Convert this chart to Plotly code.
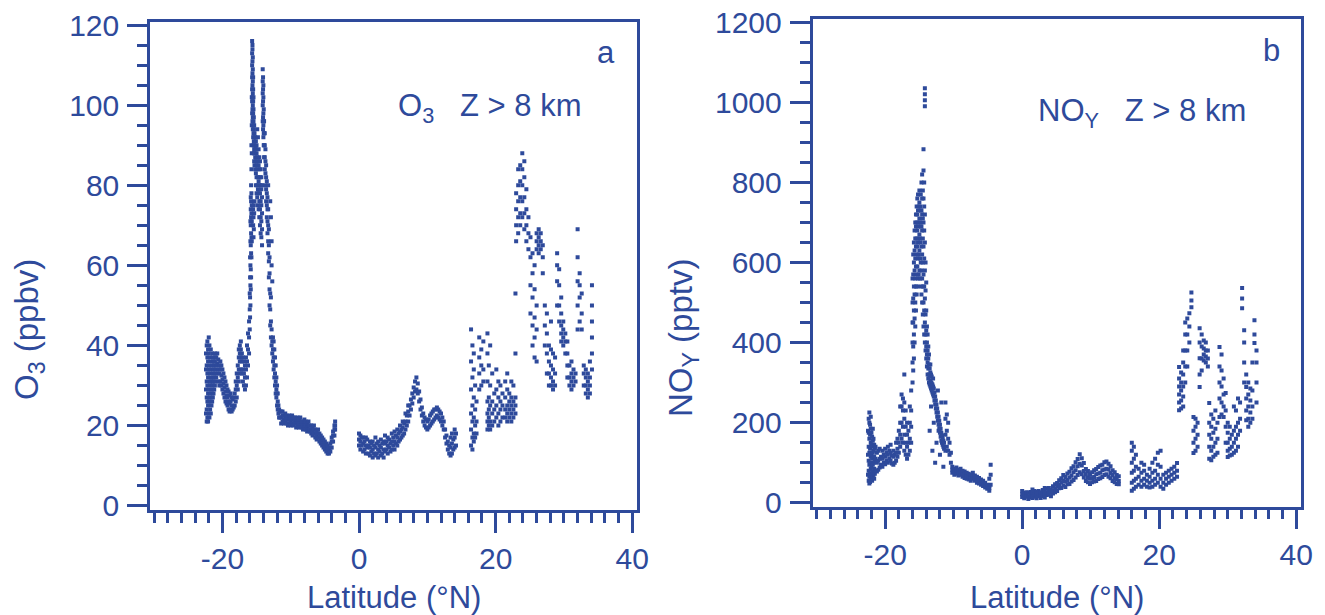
import plotly.graph_objects as go

# ---------------- O3 data: (latitude, [O3 ppbv values]) ----------------
o3_south = [
    (-22.4, [23, 29, 34, 38]), (-22.3, [21, 24, 27, 31, 35, 40]),
    (-22.2, [22, 26, 30, 33, 37, 41]), (-22.1, [21, 25, 28, 32, 36, 39]),
    (-22.0, [23, 26, 29, 34, 38, 42]), (-21.9, [22, 27, 31, 35, 40]),
    (-21.8, [24, 28, 30, 33, 37]), (-21.7, [23, 26, 31, 34, 39]),
    (-21.6, [25, 29, 32, 36]), (-21.5, [26, 28, 31, 35, 38]),
    (-21.4, [27, 30, 33, 37]), (-21.3, [28, 31, 34, 36]),
    (-21.2, [29, 32, 35]), (-21.1, [30, 33, 36, 38]),
    (-21.0, [31, 34, 37]), (-20.9, [32, 35, 37]),
    (-20.75, [33, 35.5, 38]), (-20.6, [31, 34, 36.5]),
    (-20.45, [30, 33, 35]), (-20.3, [31, 34, 36]),
    (-20.15, [30, 32.5, 35]), (-20.0, [29, 31.5, 34]),
    (-19.85, [28, 30.5, 33]), (-19.7, [27, 29.5, 32]),
    (-19.55, [26, 28.5, 31]), (-19.4, [25.5, 27.5, 30]),
    (-19.25, [25, 27, 29]), (-19.1, [24, 26, 28.5]),
    (-18.95, [23.5, 25.5, 27.5]), (-18.8, [24, 26, 28]),
    (-18.65, [23.5, 25, 27]), (-18.5, [24, 26.5]),
    (-18.35, [24.5, 27]), (-18.2, [25, 28]),
    (-18.05, [26, 29, 31]), (-17.9, [27, 30, 33]),
    (-17.75, [29, 32, 35]), (-17.6, [31, 34, 37, 39]),
    (-17.45, [33, 36, 38, 40]), (-17.3, [34, 37, 39, 41]),
    (-17.15, [33, 36, 38]), (-17.0, [31, 34, 37]),
    (-16.85, [30, 33, 36]), (-16.7, [29, 32, 35]),
    (-16.55, [30, 34, 37]), (-16.4, [32, 36, 40]),
    (-16.25, [35, 39, 43]), (-16.1, [38, 42, 46]),
]

o3_spike = [
    (-16.0, [44, 49, 53]), (-15.95, [47, 52, 57, 62]),
    (-15.9, [50, 55, 60, 66, 71]), (-15.85, [54, 59, 65, 70, 74, 77]),
    (-15.8, [57, 63, 68, 72, 76, 80]), (-15.75, [62, 67, 73, 78, 84, 90]),
    (-15.7, [66, 71, 75, 88, 95, 102]),
    (-15.65, [98, 101, 104, 107, 110, 113, 116]),
    (-15.6, [96, 99, 102, 105, 108, 111, 114, 115]),
    (-15.55, [94, 97, 100, 103, 106, 109, 112]),
    (-15.5, [70, 74, 92, 95, 98, 101, 104, 107]),
    (-15.45, [67, 72, 90, 93, 96, 99, 102]),
    (-15.4, [69, 75, 88, 91, 94, 97]), (-15.35, [73, 86, 89, 92, 95]),
    (-15.3, [76, 85, 88, 90, 93]), (-15.2, [84, 87, 89, 92]),
    (-15.1, [80, 83, 86, 89, 91]), (-15.0, [78, 82, 85, 88, 90]),
    (-14.9, [77, 80, 84, 87, 94]), (-14.8, [75, 79, 82, 86, 92]),
    (-14.7, [74, 78, 81, 85, 89]), (-14.6, [72, 76, 80, 84, 87]),
    (-14.5, [70, 74, 78, 82, 86]), (-14.4, [68, 72, 76, 80, 84]),
    (-14.3, [67, 71, 75, 79, 82]), (-14.2, [65, 69, 73, 77, 80]),
    (-14.1, [96, 100, 103, 106, 109]), (-14.05, [94, 97, 101, 104, 107]),
    (-14.0, [92, 95, 98, 102, 105]), (-13.95, [90, 93, 96, 99]),
    (-13.9, [87, 90, 93, 96]), (-13.8, [84, 87, 90, 93]),
    (-13.7, [80, 83, 86, 89]), (-13.6, [76, 79, 82, 85]),
    (-13.5, [72, 75, 78, 81]), (-13.4, [68, 71, 74, 77]),
    (-13.3, [63, 66, 70, 74, 80]), (-13.2, [57, 61, 65, 69]),
    (-13.1, [50, 54, 58, 62]), (-13.0, [45, 49, 53, 76]),
    (-12.9, [42, 46, 52, 72]), (-12.8, [40, 44, 60, 66]),
    (-12.7, [38, 41, 56]), (-12.6, [36, 39, 42]),
    (-12.5, [34, 37, 41]), (-12.4, [32, 35, 39]),
    (-12.3, [30, 33, 37]), (-12.2, [28, 31, 35]),
    (-12.1, [27, 29, 32]), (-12.0, [25, 28, 30]),
    (-11.9, [24, 26, 28]), (-11.8, [23, 25]),
    (-11.7, [22, 24]), (-11.6, [22, 23.5]),
]

o3_tropics_s = [
    (-11.4, [20.5, 22, 23.5]), (-11.2, [21, 22.5, 23.5]), (-11.0, [20.5, 21.5, 22.5]),
    (-10.8, [21, 22, 23]), (-10.6, [20.5, 21.5, 22.5]), (-10.4, [20, 21.5, 22]),
    (-10.2, [20.5, 21.5, 22.5]), (-10.0, [20, 21, 22]), (-9.8, [20.5, 21.5, 22.5]),
    (-9.6, [20, 21.5, 22]), (-9.4, [20.5, 21, 22]), (-9.2, [19.5, 20.5, 21.5]),
    (-9.0, [20, 21, 22]), (-8.8, [19.5, 20.5, 21.5]), (-8.6, [20, 21, 22]),
    (-8.4, [19.5, 20.5, 21]), (-8.2, [19, 20, 21]), (-8.0, [19.5, 20.5, 21.5]),
    (-7.8, [19, 20, 21]), (-7.6, [18.5, 19.5, 20.5]), (-7.4, [19, 20, 21]),
    (-7.2, [18.5, 19, 20]), (-7.0, [18, 19, 20]), (-6.8, [17.5, 18.5, 19.5]),
    (-6.6, [18, 19, 20]), (-6.4, [17, 18, 19]), (-6.2, [16.5, 17.5, 18.5]),
    (-6.0, [17, 18, 19]), (-5.8, [16, 17, 18]), (-5.6, [15.5, 16.5, 17.5]),
    (-5.4, [15, 16, 17]), (-5.2, [14.5, 15.5, 16.5]), (-5.0, [14, 15, 16]),
    (-4.8, [13.5, 14.5, 15.5]), (-4.6, [13, 14, 15]), (-4.4, [13, 14, 14.5]),
    (-4.2, [13.5, 14.5, 15.5]), (-4.0, [14.5, 16, 17]), (-3.8, [16, 17.5, 18.5]),
    (-3.6, [17.5, 19, 20]), (-3.5, [19, 20, 21]),
]

o3_tropics_n = [
    (0.0, [15, 16.5, 18]), (0.2, [14, 16, 17.5]), (0.4, [15, 17]),
    (0.6, [13.5, 15.5, 17]), (0.8, [14, 16]), (1.0, [13, 15, 17]),
    (1.2, [14.5, 16.5]), (1.4, [13, 15]), (1.6, [12.5, 14.5, 16]),
    (1.8, [13.5, 15.5]), (2.0, [12, 14, 16]), (2.2, [13, 15]),
    (2.4, [12.5, 14.5, 17]), (2.6, [13, 15.5]), (2.8, [12, 14, 16]),
    (3.0, [13.5, 15]), (3.2, [12.5, 14.5, 16.5]), (3.4, [13, 15.5]),
    (3.6, [12, 14, 16]), (3.8, [13.5, 15.5, 17.5]), (4.0, [14, 16]),
    (4.2, [13, 15, 17]), (4.4, [14.5, 16.5]), (4.6, [13.5, 15.5]),
    (4.8, [14, 16, 18]), (5.0, [15, 17]), (5.2, [14, 16, 18.5]),
    (5.4, [15.5, 17.5]), (5.6, [15, 17, 19]), (5.8, [16, 18]),
    (6.0, [16.5, 18.5, 20]), (6.2, [17, 19]), (6.4, [17.5, 19.5, 21]),
    (6.6, [18, 20.5]), (6.8, [19, 21, 23]), (7.0, [20, 22.5]),
    (7.2, [21, 23.5, 25]), (7.4, [22.5, 25]), (7.6, [24, 26.5]),
    (7.8, [25.5, 28]), (8.0, [27, 29.5]), (8.2, [28.5, 31]),
    (8.4, [29, 32]), (8.6, [28, 30.5]), (8.8, [26, 28.5]),
    (9.0, [24, 26.5]), (9.2, [22.5, 24.5]), (9.4, [21, 23]),
    (9.6, [20, 22]), (9.8, [19.5, 21.5]), (10.0, [19, 21]),
    (10.2, [19.5, 21.5]), (10.4, [20, 22.5]), (10.6, [20.5, 23]),
    (10.8, [21, 23.5]), (11.0, [21.5, 24]), (11.2, [22, 24]),
    (11.4, [22.5, 24.5]), (11.6, [22, 24]), (11.8, [21.5, 23.5]),
    (12.0, [21, 23]), (12.2, [20, 22]), (12.4, [19, 21]),
    (12.6, [17, 19]), (12.8, [15.5, 17.5]), (13.0, [14, 16]),
    (13.2, [13, 15]), (13.4, [12.5, 14.5, 17]), (13.6, [13, 15.5, 18]),
    (13.8, [14, 16.5]), (14.0, [14.5, 17, 19]), (14.2, [15, 18]),
]

o3_north = [
    (16.4, [15, 19, 23, 29, 36, 44]), (16.6, [14, 17, 21, 25, 32, 40]),
    (16.8, [16, 18, 22, 27, 34, 38]), (17.0, [17, 20, 24, 30]),
    (17.2, [18, 21, 26]), (17.6, [29, 33, 37, 42]),
    (17.9, [30, 35, 39]), (18.2, [31, 34, 41]),
    (18.8, [19, 21, 23, 26, 31, 38, 43]), (19.0, [20, 22, 24, 27, 35]),
    (19.2, [19, 21, 25, 30, 40]), (19.5, [20, 23, 26, 33]),
    (19.8, [21, 24, 28]), (20.1, [22, 25, 29, 34]),
    (20.4, [20, 23, 27, 31]), (20.7, [21, 24, 26, 30]),
    (21.0, [22, 25, 28]), (21.4, [22, 24, 27, 31]),
    (21.7, [21, 23, 25, 29, 33]), (22.0, [22, 24, 26, 28]),
    (22.3, [21, 23, 25, 27, 31]), (22.6, [22, 24, 26, 30]),
    (22.9, [23, 25, 27, 38, 53]),
    (23.0, [66, 70, 74, 78]), (23.3, [68, 72, 76, 80, 84]),
    (23.6, [70, 73, 77, 81, 85]), (23.9, [72, 76, 80, 84, 88]),
    (24.2, [69, 73, 77, 82, 86]), (24.5, [66, 70, 74, 79]),
    (24.8, [64, 68, 72]), (25.1, [48, 55, 62, 67]),
    (25.4, [40, 45, 52, 58, 63]), (25.7, [37, 42, 47, 54, 60]),
    (26.0, [36, 44, 50, 64, 66, 68]), (26.3, [63, 65, 67, 69]),
    (26.6, [64, 66, 68]), (26.9, [58, 62, 65]),
    (27.2, [40, 45, 50]), (27.5, [33, 38, 43, 48]),
    (27.8, [30, 33, 36, 40]), (28.1, [30, 32, 35, 39, 46]),
    (28.4, [29, 31, 34, 38]), (28.7, [30, 33, 37]),
    (29.0, [50, 56, 60, 63]), (29.3, [46, 50, 55, 59]),
    (29.6, [41, 43, 45, 48, 52]), (29.9, [40, 42, 44, 46]),
    (30.2, [38, 41, 43]), (30.5, [32, 35, 38, 41]),
    (30.8, [30, 32, 35]), (31.1, [29, 31, 33, 36]),
    (31.4, [30, 32, 34]), (31.7, [31, 33]),
    (32.0, [44, 50, 56, 62, 69]), (32.3, [46, 52, 55, 58]),
    (32.6, [44, 48, 53]), (32.9, [30, 33, 35]),
    (33.2, [28, 30, 32, 34]), (33.5, [27, 29, 31, 33]),
    (33.8, [28, 30, 32, 36]), (34.1, [34, 38, 42, 46, 50, 55]),
]

# ---------------- NOy data: (latitude, [NOy pptv values]) ----------------
noy_south = [
    (-22.5, [70, 120, 180]), (-22.4, [55, 80, 105, 140, 175, 210]),
    (-22.3, [48, 65, 95, 125, 160, 200, 225]), (-22.2, [52, 72, 100, 135, 170, 195]),
    (-22.1, [58, 85, 115, 150, 185, 215]), (-22.0, [62, 90, 120, 145, 175]),
    (-21.9, [55, 78, 110, 140, 165]), (-21.8, [65, 95, 125, 155, 185]),
    (-21.7, [70, 100, 130, 160]), (-21.6, [60, 85, 115, 145]),
    (-21.5, [72, 105, 135]), (-21.4, [80, 110, 140]),
    (-21.2, [78, 100, 125]), (-21.0, [82, 105, 130]),
    (-20.8, [88, 110, 135]), (-20.6, [95, 115]),
    (-20.4, [90, 110, 130]), (-20.2, [100, 120]),
    (-20.0, [96, 115, 135]), (-19.8, [105, 125]),
    (-19.6, [100, 120, 140]), (-19.4, [110, 130]),
    (-19.2, [105, 125, 145]), (-19.0, [98, 118]),
    (-18.8, [95, 115, 130]), (-18.6, [100, 120]),
    (-18.4, [105, 125, 150]), (-18.2, [115, 135, 160]),
    (-18.0, [125, 150, 180]), (-17.8, [140, 170, 200, 240]),
    (-17.6, [160, 200, 240, 270]), (-17.4, [150, 190, 230, 260]),
    (-17.2, [130, 170, 210, 250, 320]), (-17.0, [120, 150, 190, 230]),
    (-16.8, [110, 140, 170, 200]), (-16.6, [120, 150, 180]),
    (-16.4, [130, 160, 200, 240]), (-16.2, [150, 190, 230, 280]),
]

noy_spike = [
    (-16.0, [300, 350, 400, 450, 500, 560]), (-15.9, [330, 390, 450, 510, 570, 620]),
    (-15.8, [360, 420, 480, 540, 600, 650]), (-15.7, [400, 460, 520, 580, 630, 680]),
    (-15.6, [440, 500, 560, 610, 660, 700]), (-15.5, [480, 540, 590, 640, 690, 720]),
    (-15.4, [520, 570, 620, 660, 700, 740]), (-15.3, [540, 590, 640, 680, 720, 760]),
    (-15.2, [560, 610, 650, 690, 730, 770]), (-15.1, [570, 620, 660, 700, 740]),
    (-15.0, [580, 630, 670, 710, 750, 780]), (-14.9, [560, 610, 660, 700, 740]),
    (-14.8, [540, 600, 650, 690, 730, 770]), (-14.7, [520, 580, 640, 690, 730, 800]),
    (-14.6, [500, 560, 620, 680, 720, 760, 820]), (-14.5, [470, 540, 600, 660, 710, 780]),
    (-14.4, [440, 500, 570, 640, 700, 760, 830, 883]),
    (-14.3, [420, 480, 540, 610, 680, 740, 800]),
    (-14.2, [400, 450, 510, 580, 650, 720, 990, 1005, 1020, 1035]),
    (-14.1, [380, 420, 470, 530, 600]), (-14.0, [360, 390, 430, 480, 550]),
    (-13.9, [340, 370, 400, 440]), (-13.8, [320, 350, 380, 420]),
    (-13.7, [310, 335, 360, 390]), (-13.6, [300, 320, 345, 370]),
    (-13.5, [180, 295, 315, 335]), (-13.4, [290, 305, 325, 345]),
    (-13.3, [240, 285, 300, 320]), (-13.2, [280, 298, 315]),
    (-13.1, [130, 275, 295]), (-13.0, [270, 290, 310]),
    (-12.9, [200, 265, 285]), (-12.8, [255, 275]),
    (-12.7, [100, 245, 265]), (-12.6, [235, 255]),
    (-12.5, [150, 225, 245]), (-12.4, [215, 235]),
    (-12.3, [205, 225, 280]), (-12.2, [180, 195, 215]),
    (-12.1, [185, 205]), (-12.0, [120, 175, 195]),
    (-11.9, [165, 185]), (-11.8, [155, 175, 250]),
    (-11.7, [150, 168]), (-11.6, [145, 160]),
    (-11.5, [90, 140, 155]), (-11.4, [135, 150]),
    (-11.2, [130, 170, 210, 250]), (-11.0, [140, 180, 220]),
    (-10.8, [130, 160, 200]), (-10.6, [120, 150]), (-10.4, [100, 125]),
]

noy_tropics_s = [
    (-10.2, [75, 82, 90]), (-9.9, [70, 78, 85]), (-9.6, [72, 80, 88]),
    (-9.3, [68, 75, 82]), (-9.0, [70, 78, 85]), (-8.7, [65, 72, 80]),
    (-8.4, [62, 70, 78]), (-8.1, [60, 68, 75]), (-7.8, [58, 65, 72]),
    (-7.5, [55, 62, 70]), (-7.2, [60, 68, 75]), (-6.9, [55, 62, 68]),
    (-6.6, [50, 58, 65]), (-6.3, [48, 55, 62]), (-6.0, [45, 52, 58]),
    (-5.7, [42, 48, 55]), (-5.4, [38, 44, 50]), (-5.1, [35, 40, 45]),
    (-4.8, [30, 36, 42, 60]), (-4.6, [45, 70, 95]),
]

noy_tropics_n = [
    (0.0, [14, 21, 29]), (0.3, [11, 19, 24]), (0.6, [15, 22, 26]),
    (0.9, [9, 16, 25]), (1.2, [13, 20, 27]), (1.5, [12, 17, 26, 33]),
    (1.8, [15, 20, 29]), (2.1, [11, 18, 27]), (2.4, [16, 23, 29]),
    (2.7, [12, 21, 26]), (3.0, [17, 22, 32]), (3.3, [13, 22, 27, 37]),
    (3.6, [19, 25, 35]), (3.9, [21, 29, 37]), (4.2, [16, 26, 32]),
    (4.5, [23, 29, 41]), (4.8, [26, 34, 46]), (5.1, [29, 41, 49]),
    (5.4, [36, 44, 56]), (5.7, [37, 51, 61]), (6.0, [43, 54, 69]),
    (6.3, [39, 53, 64]), (6.6, [46, 57, 73]), (6.9, [47, 63, 77]),
    (7.2, [53, 67, 86]), (7.5, [57, 76, 91]), (7.8, [63, 81, 101]),
    (8.1, [69, 91, 109]), (8.4, [76, 97, 121]), (8.7, [71, 93, 111]),
    (9.0, [63, 79, 99]), (9.3, [54, 71, 84]), (9.6, [51, 63, 79]),
    (9.9, [47, 61, 71]), (10.2, [51, 61, 76]), (10.5, [53, 64, 81]),
    (10.8, [54, 71, 84]), (11.1, [59, 73, 89]), (11.4, [61, 75, 93]),
    (11.7, [64, 81, 95]), (12.0, [69, 83, 101]), (12.3, [71, 85, 103]),
    (12.6, [65, 83, 97]), (12.9, [61, 74, 91]), (13.2, [54, 69, 81]),
    (13.5, [51, 61, 76]), (13.8, [47, 59, 69]), (14.1, [46, 54, 66]),
    (16.0, [30, 50, 75, 100, 130, 150]), (16.3, [35, 55, 80, 110, 140]),
    (16.6, [40, 60, 90, 120]), (17.0, [45, 65, 85]),
    (17.4, [40, 55, 75, 100]), (17.8, [45, 60, 80, 95]),
    (18.2, [40, 55, 70]), (18.6, [38, 50, 65, 85]),
    (19.0, [40, 55, 75, 100]), (19.4, [45, 60, 80, 110]),
    (19.8, [50, 70, 95, 125]), (20.2, [40, 60, 90, 130]),
    (20.6, [35, 50, 70]), (21.0, [45, 60, 75]), (21.4, [50, 65, 80]),
    (21.8, [55, 70, 85]), (22.2, [60, 75, 90]), (22.6, [65, 80, 99]),
]

noy_north = [
    (22.9, [231, 250, 270, 290, 310, 339]), (23.2, [235, 255, 280, 300, 325]),
    (23.5, [240, 265, 290, 320, 350, 380]), (23.8, [300, 340, 380, 420, 450]),
    (24.1, [340, 380, 420, 460]), (24.4, [400, 440, 473]),
    (24.7, [488, 505, 525]), (25.0, [124, 150, 180, 214]),
    (25.3, [130, 160, 190, 210]), (25.6, [140, 170, 200]),
    (25.9, [289, 320, 361, 400, 436]), (26.2, [330, 360, 390, 420]),
    (26.5, [355, 370, 385, 405]), (26.8, [350, 365, 380, 400]),
    (27.1, [340, 360, 380]), (27.3, [110, 140, 170, 200, 249]),
    (27.6, [106, 130, 160, 190, 220]), (27.9, [115, 140, 175, 210]),
    (28.2, [120, 150, 185, 230]), (28.5, [125, 160, 200]),
    (28.8, [214, 260, 300, 340, 389]), (29.1, [220, 250, 290, 330, 370]),
    (29.4, [214, 240, 270, 310]), (29.7, [150, 190, 230, 274]),
    (30.0, [114, 130, 150, 175, 200]), (30.3, [118, 135, 160, 190]),
    (30.6, [120, 140, 170]), (30.9, [125, 150, 180, 240]),
    (31.2, [130, 160, 190, 230]), (31.5, [140, 170, 200, 260]),
    (31.8, [180, 210, 250]), (32.1, [486, 510, 536]),
    (32.4, [300, 350, 400, 431]), (32.7, [206, 230, 260, 289, 320]),
    (33.0, [190, 210, 240, 270, 300]), (33.3, [200, 225, 255, 285]),
    (33.6, [210, 240, 280, 350]), (33.9, [399, 420, 456]),
    (34.2, [250, 300, 350, 380]),
]

x_ticks = [-20, 0, 20, 40]
x_ticktext = ["-20", "0", "20", "40"]
o3_ticks = [0, 20, 40, 60, 80, 100, 120]
noy_ticks = [0, 200, 400, 600, 800, 1000, 1200]

COLOR = "#2E4A9B"
FONT = "Liberation Sans, Arial, sans-serif"
W, H = 1325, 615


def flatten(*segments):
    xs, ys = [], []
    for seg in segments:
        for lat, vals in seg:
            for v in vals:
                xs.append(lat)
                ys.append(v)
    return xs, ys


o3_x, o3_y = flatten(o3_south, o3_spike, o3_tropics_s, o3_tropics_n, o3_north)
noy_x, noy_y = flatten(noy_south, noy_spike, noy_tropics_s, noy_tropics_n, noy_north)

fig = go.Figure()
marker = dict(color=COLOR, size=4, symbol="square", line=dict(width=0))
fig.add_trace(go.Scatter(x=o3_x, y=o3_y, mode="markers", marker=marker,
                         xaxis="x", yaxis="y", showlegend=False))
fig.add_trace(go.Scatter(x=noy_x, y=noy_y, mode="markers", marker=marker,
                         xaxis="x2", yaxis="y2", showlegend=False))


def px_x(p):
    return p / W


def px_y(p):
    return 1 - p / H


tickfont = dict(family=FONT, size=30, color=COLOR)


def xaxis(domain, anchor):
    return dict(domain=domain, anchor=anchor, range=[-30.6, 40.65],
                tickvals=x_ticks, ticktext=x_ticktext, ticks="outside",
                ticklen=20, tickwidth=2.5, automargin=False,
                tickcolor=COLOR, showline=True, linecolor=COLOR, linewidth=2.5,
                mirror=True, showgrid=False, zeroline=False, tickfont=tickfont,
                ticklabelstandoff=0,
                minor=dict(dtick=2, tick0=0, ticks="outside", ticklen=10,
                           tickwidth=2.5, tickcolor=COLOR, showgrid=False))


def yaxis(domain, anchor, rng, ticks, minor_dt):
    return dict(domain=domain, anchor=anchor, range=rng,
                tickvals=ticks, ticks="outside", ticklen=20, tickwidth=2.5,
                automargin=False,
                tickcolor=COLOR, showline=True, linecolor=COLOR, linewidth=2.5,
                mirror=True, showgrid=False, zeroline=False, tickfont=tickfont,
                ticklabelstandoff=2,
                minor=dict(dtick=minor_dt, tick0=0, ticks="outside", ticklen=10,
                           tickwidth=2.5, tickcolor=COLOR, showgrid=False))


fig.update_layout(
    width=W, height=H,
    margin=dict(l=0, r=0, t=0, b=0, autoexpand=False),
    paper_bgcolor="white", plot_bgcolor="white",
    xaxis=xaxis([px_x(150), px_x(636.7)], "y"),
    yaxis=yaxis([px_y(510), px_y(22.3)], "x", [-1.1, 120.7], o3_ticks, 5),
    xaxis2=xaxis([px_x(812.5), px_x(1300.7)], "y2"),
    yaxis2=yaxis([px_y(506.7), px_y(19.3)], "x2", [-10, 1207.5], noy_ticks, 50),
)

tf = dict(family=FONT, size=31, color=COLOR)
ytf = dict(family=FONT, size=33, color=COLOR)
ann = [
    # axis titles
    dict(x=px_x(394), y=px_y(597), text="Latitude (°N)"),
    dict(x=px_x(1057), y=px_y(597), text="Latitude (°N)"),
    dict(x=px_x(29), y=px_y(330), text="O<sub>3</sub> (ppbv)", textangle=-90,
         font=ytf),
    dict(x=px_x(683), y=px_y(338), text="NO<sub>Y</sub> (pptv)", textangle=-90,
         font=ytf),
    # in-panel labels
    dict(x=px_x(606), y=px_y(52), text="a"),
    dict(x=px_x(1271), y=px_y(50), text="b"),
    dict(x=px_x(489), y=px_y(108), text="O<sub>3</sub>   Z > 8 km"),
    dict(x=px_x(1142), y=px_y(113), text="NO<sub>Y</sub>   Z > 8 km"),
]
for a in ann:
    a.setdefault("font", tf)
    a.update(xref="paper", yref="paper", showarrow=False,
             xanchor="center", yanchor="middle")
fig.update_layout(annotations=ann)

fig.write_html(
    "out.html",
    config={"displayModeBar": False},
    post_script="document.body.style.margin='0';document.body.style.padding='0';",
)
